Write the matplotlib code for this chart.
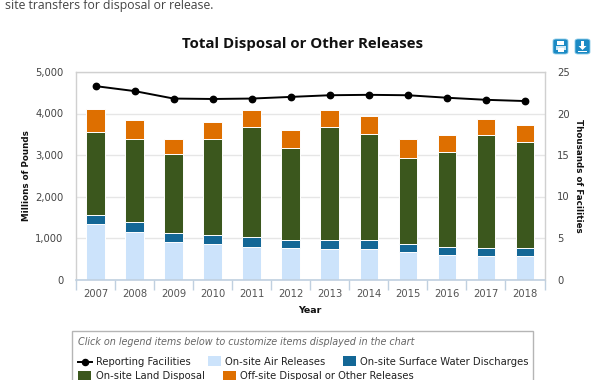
import matplotlib
matplotlib.use("Agg")
import matplotlib.pyplot as plt
from matplotlib.patches import Rectangle, FancyBboxPatch, Polygon

years = ['2007','2008','2009','2010','2011','2012','2013','2014','2015','2016','2017','2018']
air = [1336,1143,902,853,789,749,725,725,652,588,564,564]
water = [218,234,209,226,225,209,217,217,193,185,193,193]
land = [2005,2005,1908,2303,2657,2214,2729,2560,2078,2303,2721,2560]
offsite = [547,467,355,410,419,419,419,435,467,402,395,411]
facilities = [23.3,22.7,21.8,21.75,21.8,22.0,22.2,22.25,22.2,21.9,21.65,21.5]

W, H = 600, 380
plt.rcParams['font.family'] = ['DejaVu Sans']
fig = plt.figure(figsize=(6, 3.8), dpi=100)
ax = fig.add_axes([76/W, 1-279.5/H, (544.5-76)/W, (279.5-72)/H])
ax.set_xlim(-0.5, 11.5)
ax.set_ylim(0, 5000)
ax.set_yticks([0,1000,2000,3000,4000,5000])
ax.set_yticklabels(['0','1,000','2,000','3,000','4,000','5,000'], fontsize=7.2, color='#444444')
ax.grid(axis='y', color='#e6e6e6', lw=1)
ax.set_axisbelow(True)
for s in ax.spines.values():
    s.set_color('#d0d0d0'); s.set_linewidth(1)
ax.spines['bottom'].set_color('#c0d0e0')
ax.spines['bottom'].set_linewidth(1.2)
ax.tick_params(axis='y', length=0, pad=9)

xs = list(range(len(years)))
ax.set_xticks(xs)
ax.set_xticklabels(years, fontsize=7.2, color='#555555')
ax.tick_params(axis='x', length=0, pad=6.5)
ax.set_xticks([i-0.5 for i in range(len(years)+1)], minor=True)
ax.tick_params(axis='x', which='minor', length=7, color='#c0d0e0', width=1)

bottom = [0]*len(years)
for vals, col in [(air,'#cce3fb'),(water,'#136796'),(land,'#3b571d'),(offsite,'#de6f00')]:
    ax.bar(xs, vals, bottom=bottom, width=0.475, color=col, edgecolor='white', linewidth=0.7, zorder=2)
    bottom = [b+v for b, v in zip(bottom, vals)]

ax2 = ax.twinx()
ax2.set_ylim(0, 25)
ax2.set_yticks([0,5,10,15,20,25])
ax2.set_yticklabels(['0','5','10','15','20','25'], fontsize=7.2, color='#444444')
ax2.tick_params(axis='y', length=0, pad=9)
for s in ax2.spines.values():
    s.set_visible(False)
ax2.plot(xs, facilities, color='black', lw=1.4, marker='o', ms=4.6, zorder=5)

def T(x, y, s, **kw):
    kw.setdefault('va', 'center')
    return fig.text(x/W, 1-y/H, s, **kw)

T(5, 5, 'site transfers for disposal or release.', fontsize=8.8, color='#444444', family='Open Sans')
T(303, 44, 'Total Disposal or Other Releases', fontsize=10.8, fontweight='bold', ha='center', color='#111111', family='Open Sans')
T(26.5, 176, 'Millions of Pounds', fontsize=6.3, fontweight='bold', rotation=90, ha='center', color='#111111')
T(579, 176, 'Thousands of Facilities', fontsize=6.3, fontweight='bold', rotation=270, ha='center', color='#111111')
T(310, 310.5, 'Year', fontsize=6.8, fontweight='bold', ha='center', color='#111111')

def R(x, y, w, h, c):
    fig.add_artist(Rectangle((x/W, 1-(y+h)/H), w/W, h/H, transform=fig.transFigure, fc=c, ec='none'))

for x0 in (553, 575):
    fig.add_artist(FancyBboxPatch((x0/W, 1-54/H), 15/W, 15/H, boxstyle='round,pad=0,rounding_size=0.005',
                                  transform=fig.transFigure, fc='#1b8ac4', ec='#8ccbe8', lw=0.6))
R(557, 41, 7, 4, 'white'); R(555.5, 46, 10, 4, '#cfe9f6'); R(557.5, 48, 6, 4, 'white')
R(581, 41, 3, 5, 'white')
fig.add_artist(Polygon([(578.5/W, 1-46/H), (586.5/W, 1-46/H), (582.5/W, 1-50/H)], transform=fig.transFigure, fc='white', ec='none'))
R(578, 50.5, 9, 1.5, 'white')

fig.add_artist(Rectangle((71.5/W, -0.02), (533-71.5)/W, (380-330.5)/H+0.02, transform=fig.transFigure,
                         fc='white', ec='#b5b5b5', lw=1))
T(78, 342, 'Click on legend items below to customize items displayed in the chart', fontsize=6.95, style='italic', color='#666666')

LEG = 7.2
fig.add_artist(plt.Line2D([78/W, 85/W, 92/W], [1-362/H]*3, color='black', lw=1.4, marker='o', ms=4.4,
                          markevery=[1], transform=fig.transFigure))
T(95.7, 362, 'Reporting Facilities', fontsize=LEG, color='#222222')
for x0, y0, col, lab in [(207.5, 361, '#cce3fb', 'On-site Air Releases'),
                         (343, 361, '#136796', 'On-site Surface Water Discharges'),
                         (78, 375.5, '#3b571d', 'On-site Land Disposal'),
                         (223, 375.5, '#de6f00', 'Off-site Disposal or Other Releases')]:
    R(x0, y0-5, 13, 10, col)
    T(x0+17.5, y0+1 if y0 == 361 else 376, lab, fontsize=LEG, color='#222222')

fig.savefig('out.png', dpi=100)
